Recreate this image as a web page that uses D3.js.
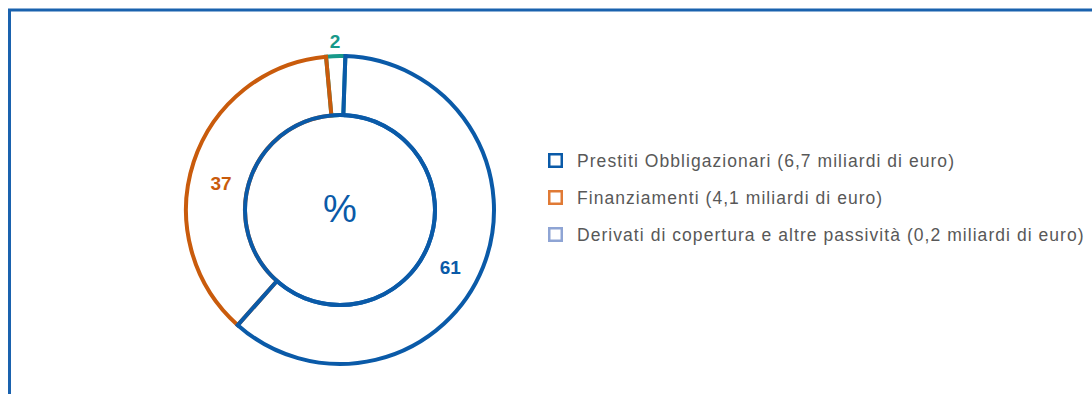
<!DOCTYPE html>
<html>
<head>
<meta charset="utf-8">
<script src="https://cdn.jsdelivr.net/npm/d3@7/dist/d3.min.js"></script>
<style>
  html, body { margin: 0; padding: 0; background: #fff; }
  svg { display: block; }
</style>
</head>
<body>
<svg id="chart" width="1092" height="394"></svg>
<script>
// Composition of financial debt, in percent
const categories = [
  "Prestiti Obbligazionari (6,7 miliardi di euro)",
  "Finanziamenti (4,1 miliardi di euro)",
  "Derivati di copertura e altre passività (0,2 miliardi di euro)"
];
const shares = [61, 37, 2];
const sliceColors = ["#0a5aa8", "#c95b0c", "#17998a"];
const legendColors = ["#0a5aa8", "#e07a35", "#8ea4d4"];
const centerLabel = "%";

const svg = d3.select("#chart");
const W = 1092, H = 394;

// outer frame, open toward right and bottom edges
svg.append("path")
  .attr("d", `M9.5,${H + 5} V10 H${W + 5}`)
  .attr("fill", "none")
  .attr("stroke", "#1a62ae")
  .attr("stroke-width", 3);

const cx = 340, cy = 210;
const rOuter = 154, rInner = 95;
const startOffset = 2 * Math.PI / 180;

const data = categories.map((c, i) => ({ name: c, value: shares[i], color: sliceColors[i], legend: legendColors[i] }));

const pie = d3.pie().sort(null).value(d => d.value)
  .startAngle(startOffset).endAngle(startOffset + 2 * Math.PI);
const arcs = pie(data);

const arc = d3.arc().innerRadius(rInner).outerRadius(rOuter);

const g = svg.append("g").attr("transform", `translate(${cx},${cy})`);

// slices outlined, drawn last-to-first so the first series sits on top
g.selectAll("path.slice")
  .data(arcs.slice().reverse())
  .join("path")
  .attr("class", "slice")
  .attr("d", arc)
  .attr("fill", "none")
  .attr("stroke", d => d.data.color)
  .attr("stroke-width", 4)
  .attr("stroke-linejoin", "miter");

// inner ring
g.append("circle")
  .attr("r", rInner)
  .attr("fill", "none")
  .attr("stroke", sliceColors[0])
  .attr("stroke-width", 4);

// value labels: inside the ring for large slices, outside for small ones
const labelArcIn = d3.arc().innerRadius(122).outerRadius(122);
const labelArcOut = d3.arc().innerRadius(174).outerRadius(174);
g.selectAll("text.val")
  .data(arcs)
  .join("text")
  .attr("class", "val")
  .attr("transform", d => {
    const small = (d.endAngle - d.startAngle) < 0.3;
    const [x, y] = (small ? labelArcOut : labelArcIn).centroid(d);
    return small ? `translate(${x},${y + 5})` : `translate(${x - 3},${y + 12})`;
  })
  .attr("text-anchor", "middle")
  .attr("dominant-baseline", "central")
  .attr("font-family", "Liberation Sans, Arial, sans-serif")
  .attr("font-weight", "bold")
  .attr("font-size", 19)
  .attr("fill", d => d.data.color)
  .text(d => d.data.value);

g.append("text")
  .attr("x", 0).attr("y", -1)
  .attr("text-anchor", "middle")
  .attr("dominant-baseline", "central")
  .attr("font-family", "Liberation Sans, Arial, sans-serif")
  .attr("font-size", 38)
  .attr("fill", sliceColors[0])
  .text(centerLabel);

// legend
const legend = svg.append("g").attr("transform", "translate(548,153)");
const rowStep = 37;
const rows = legend.selectAll("g.row")
  .data(data)
  .join("g")
  .attr("class", "row")
  .attr("transform", (d, i) => `translate(0,${i * rowStep})`);

rows.append("rect")
  .attr("x", 1.25).attr("y", 1.25)
  .attr("width", 12.5).attr("height", 12.5)
  .attr("fill", "none")
  .attr("stroke", d => d.legend)
  .attr("stroke-width", 2.5);

rows.append("text")
  .attr("x", 29).attr("y", 7.5)
  .attr("dominant-baseline", "central")
  .attr("font-family", "Liberation Sans, Arial, sans-serif")
  .attr("font-size", 17.5)
  .attr("letter-spacing", 1.05)
  .attr("fill", "#585858")
  .text(d => d.name);
</script>
</body>
</html>
